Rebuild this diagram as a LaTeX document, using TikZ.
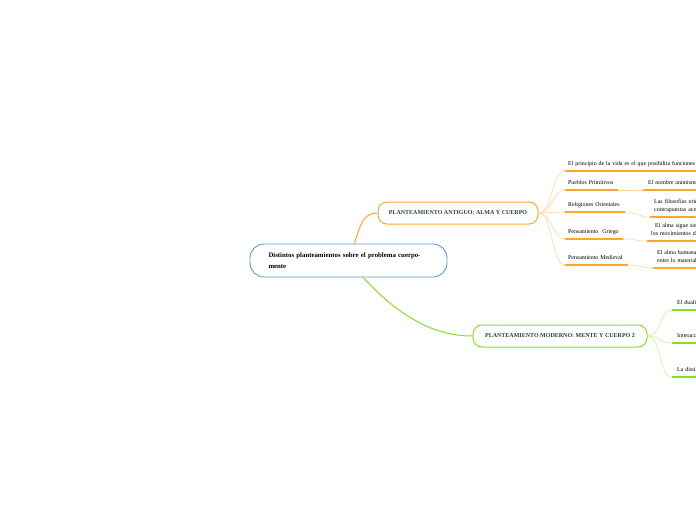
\documentclass[tikz,border=0pt]{standalone}
\usepackage{fontspec}
\setmainfont{Liberation Serif}
\usepackage{tikz}
\usetikzlibrary{positioning}
\definecolor{myblue}{HTML}{5B9BD5}
\definecolor{myorange}{HTML}{FFA726}
\definecolor{lightorange}{HTML}{FFD699}
\definecolor{mygreen}{HTML}{86E01E}
\definecolor{lightgreen}{HTML}{C9F59B}
\definecolor{mytext}{HTML}{244040}
\tikzset{
	centralnode/.style={
			draw=myblue,
			line width=0.9pt,
			rounded corners=14pt,
			fill=white,
			minimum width=197pt,
			minimum height=33pt,
			text width=160pt,
			align=left,
			inner sep=0pt,
			font=\fontsize{6.8}{11}\selectfont\bfseries
		},
	mainnode/.style={
			draw=#1,
			line width=1pt,
			rounded corners=9pt,
			fill=white,
			minimum height=22pt,
			inner sep=0pt,
			text=mytext,
			font=\fontsize{6}{7}\selectfont\bfseries
		},
	leafnode/.style={
			anchor=south west,
			inner xsep=3pt,
			inner ysep=3.5pt,
			text depth=1.5pt,
			align=left,
			font=\fontsize{5.9}{8}\selectfont
		},
	twolines/.style={
			text depth=9.5pt
		},
	leafline/.style={
			line width=1.3pt,
			draw=#1
		},
	branch/.style={
			line width=0.6pt,
			draw=#1
		}
}

\begin{document}
\begin{tikzpicture}[x=1pt, y=-1pt]
    \useasboundingbox (0,0) rectangle (696,520);

    % main topics
    \node[centralnode] (centro) at (348.5,260.5) {Distintos planteamientos sobre el problema cuerpo-\\mente};
    \node[mainnode=myorange, minimum width=160pt] (antiguo) at (458,213) {PLANTEAMIENTO ANTIGUO: ALMA Y CUERPO};
    \node[mainnode=mygreen, minimum width=174pt] (moderno) at (560,336) {PLANTEAMIENTO MODERNO: MENTE Y CUERPO 2};

    \draw[line width=1pt, myorange] ([xshift=6pt]centro.north) .. controls +(6,-20) and +(-14,0) .. (antiguo.west);
    \draw[line width=1pt, mygreen] ([xshift=14.5pt]centro.south) .. controls +(30,32) and +(-45,0) .. (moderno.west);

    % planteamiento antiguo
    \node[leafnode, text width=150pt] (vida) at (565,171) {\mbox{El principio de la vida es el que posibilita funciones vitales}};
    \node[leafnode, text width=47pt] (pueblos) at (565,190) {\mbox{Pueblos Primitivos}};
    \node[leafnode, text width=54pt] (religiones) at (565,212) {\mbox{Religiones Orientales}};
    \node[leafnode, text width=52pt] (griego) at (565,239) {\mbox{Pensamiento\ \ Griego}};
    \node[leafnode, text width=57pt] (medieval) at (565,265) {\mbox{Pensamiento Medieval}};

    \node[leafnode, inner xsep=5pt, text width=80pt] (animismo) at (643,190) {\mbox{El nombre animismo}};
    \node[leafnode, twolines, inner xsep=4pt, text width=80pt] (filosofias) at (650,217) {\mbox{Las filosofías orientales}\\\mbox{contrapuestas acerca}};
    \node[leafnode, twolines, inner xsep=4pt, text width=80pt] (alma) at (647,241) {\mbox{\ \ El alma sigue siendo}\\\mbox{los movimientos del}};
    \node[leafnode, twolines, inner xsep=4pt, text width=80pt] (humana) at (653,268) {\mbox{El alma humana es}\\\mbox{entre lo material y}};

    \foreach \leaf in {vida, pueblos, religiones, griego, medieval}
        \draw[branch=lightorange] (antiguo.east) .. controls +(14,0) and +(-13,0) .. (\leaf.south west);
    \foreach \from/\to in {pueblos/animismo, religiones/filosofias, griego/alma, medieval/humana}
        \draw[branch=lightorange] (\from.south east) .. controls +(12,0) and +(-12,0) .. (\to.south west);
    \foreach \leaf in {vida, pueblos, religiones, griego, medieval, animismo, filosofias, alma, humana}
        \draw[leafline=myorange] (\leaf.south west) -- (\leaf.south east);

    % planteamiento moderno
    \node[leafnode, inner xsep=5pt, text width=80pt] (dualismo) at (672,310) {\mbox{El dualismo}};
    \node[leafnode, inner xsep=5pt, text width=80pt] (interaccion) at (672,343) {\mbox{Interaccionismo}};
    \node[leafnode, inner xsep=5pt, text width=80pt] (distincion) at (672,377) {\mbox{La distinción}};

    \foreach \leaf in {dualismo, interaccion, distincion} {
        \draw[branch=lightgreen] (moderno.east) .. controls +(14,0) and +(-13,0) .. (\leaf.south west);
        \draw[leafline=mygreen] (\leaf.south west) -- (\leaf.south east);
    }
\end{tikzpicture}
\end{document}
